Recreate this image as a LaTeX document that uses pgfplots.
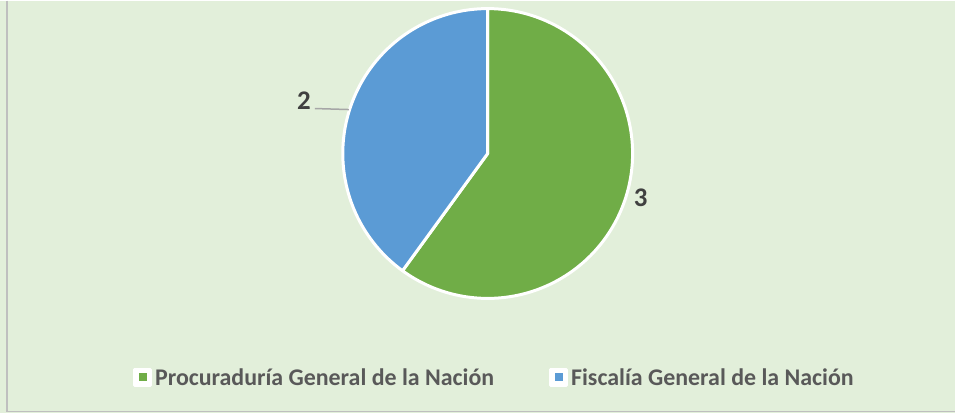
\documentclass[border=0pt]{standalone}
\usepackage{pgfplots}
\pgfplotsset{compat=1.18}
\usepackage{fontspec}
\setmainfont{Carlito}
\definecolor{pgreen}{HTML}{70AD47}
\definecolor{pblue}{HTML}{5B9BD5}
\definecolor{bgc}{HTML}{E2EFDA}
\definecolor{bordc}{HTML}{BFBFBF}
\definecolor{legtext}{HTML}{595959}
\definecolor{labtext}{HTML}{404040}
\definecolor{leader}{HTML}{A6A6A6}
% data
\def\vA{3}
\def\vB{2}
\pgfmathsetmacro\total{\vA+\vB}
\pgfmathsetmacro\angA{90-360*\vA/\total}
\pgfmathsetmacro\angB{\angA-360*\vB/\total}
\begin{document}
\begin{tikzpicture}
\begin{axis}[
  width=956bp, height=413bp, scale only axis,
  xmin=0, xmax=956, ymin=0, ymax=413, y dir=reverse,
  axis lines=none, clip=false,
  legend columns=2,
  legend style={at={(axis cs:133,377)}, anchor=west, draw=none, fill=none,
    font=\bfseries\fontsize{24}{28}\selectfont, text=legtext, inner sep=0pt,
    nodes={inner sep=3bp},
    /tikz/every even column/.append style={column sep=52bp}},
  legend image code/.code={\fill[white] (0bp,-8bp) rectangle (16bp,8bp);
     \fill (2.5bp,-5.5bp) rectangle (13.5bp,5.5bp);},
]
\fill[bgc] (axis cs:0,0) rectangle (axis cs:956,413);
\draw[bordc, line width=1.2bp] (axis cs:7,0) -- (axis cs:7,411) -- (axis cs:956,411);
\addplot[fill=pgreen, draw=white, line width=3bp, line join=round, domain=90:\angA, samples=150, variable=\t]
  ({488+145*cos(\t)},{153-145*sin(\t)}) -- (axis cs:488,153) -- cycle;
\addlegendentry{Procuraduría General de la Nación}
\addplot[fill=pblue, draw=white, line width=3bp, line join=round, domain=\angA:\angB, samples=150, variable=\t]
  ({488+145*cos(\t)},{153-145*sin(\t)}) -- (axis cs:488,153) -- cycle;
\addlegendentry{Fiscalía General de la Nación}
\draw[leader, line width=1.5bp] (axis cs:315,108) -- (axis cs:349,109);
\node[font=\bfseries\fontsize{27}{31}\selectfont, text=labtext] at (axis cs:304,100) {2};
\node[font=\bfseries\fontsize{27}{31}\selectfont, text=labtext] at (axis cs:641,197.5) {3};
\end{axis}
\end{tikzpicture}
\end{document}
